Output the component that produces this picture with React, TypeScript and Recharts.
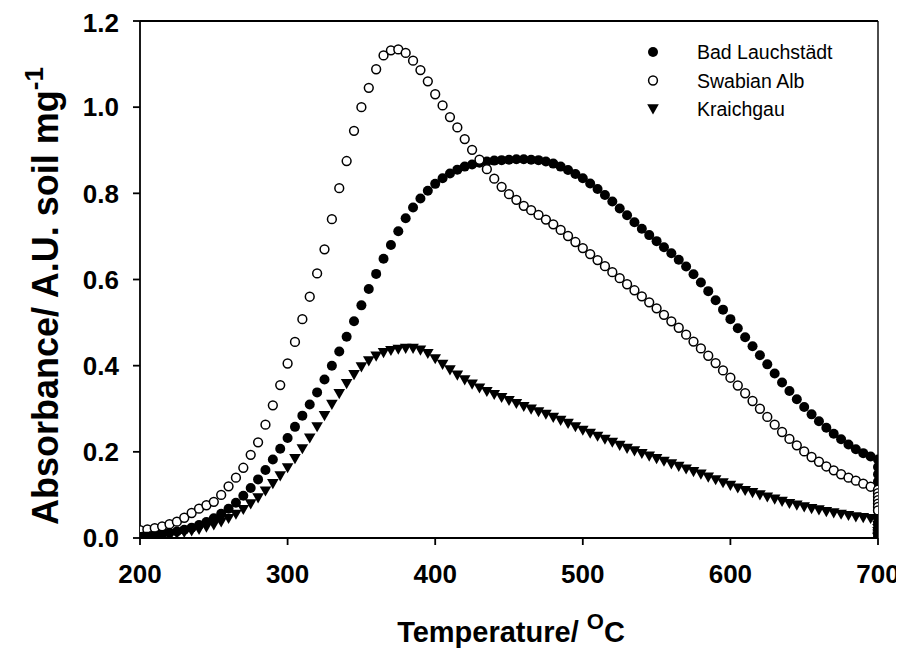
import React from 'react';
import { ScatterChart, Scatter, XAxis, YAxis, ReferenceLine, Label } from 'recharts';

// Temperature (°C) sampling positions
const temperatures = [
  200, 205, 210, 215, 220, 225, 230, 235, 240, 245,
  250, 255, 260, 265, 270, 275, 280, 285, 290, 295,
  300, 305, 310, 315, 320, 325, 330, 335, 340, 345,
  350, 355, 360, 365, 370, 375, 380, 385, 390, 395,
  400, 405, 410, 415, 420, 425, 430, 435, 440, 445,
  450, 455, 460, 465, 470, 475, 480, 485, 490, 495,
  500, 505, 510, 515, 520, 525, 530, 535, 540, 545,
  550, 555, 560, 565, 570, 575, 580, 585, 590, 595,
  600, 605, 610, 615, 620, 625, 630, 635, 640, 645,
  650, 655, 660, 665, 670, 675, 680, 685, 690, 695,
  700,
];

const badLauchstaedt = [
  0.005, 0.006, 0.008, 0.010, 0.012, 0.015, 0.019, 0.024, 0.030, 0.037,
  0.046, 0.056, 0.068, 0.082, 0.098, 0.116, 0.136, 0.158, 0.182, 0.207,
  0.232, 0.258, 0.284, 0.310, 0.338, 0.368, 0.400, 0.433, 0.467, 0.503,
  0.540, 0.578, 0.613, 0.648, 0.680, 0.712, 0.742, 0.767, 0.788, 0.806,
  0.822, 0.835, 0.846, 0.855, 0.862, 0.867, 0.871, 0.874, 0.876, 0.877,
  0.878, 0.879, 0.879, 0.878, 0.877, 0.874, 0.869, 0.862, 0.854, 0.845,
  0.835, 0.823, 0.810, 0.796, 0.781, 0.765, 0.749, 0.733, 0.718, 0.703,
  0.689, 0.675, 0.661, 0.646, 0.630, 0.612, 0.593, 0.573, 0.552, 0.530,
  0.508, 0.487, 0.466, 0.445, 0.424, 0.403, 0.382, 0.361, 0.341, 0.322,
  0.304, 0.287, 0.271, 0.256, 0.242, 0.229, 0.217, 0.206, 0.197, 0.189,
  0.182,
];

const swabianAlb = [
  0.018, 0.020, 0.023, 0.027, 0.032, 0.038, 0.047, 0.058, 0.068, 0.076,
  0.084, 0.100, 0.120, 0.140, 0.163, 0.193, 0.222, 0.263, 0.308, 0.355,
  0.405, 0.455, 0.508, 0.560, 0.614, 0.670, 0.740, 0.812, 0.875, 0.945,
  1.000, 1.045, 1.088, 1.120, 1.132, 1.134, 1.126, 1.108, 1.086, 1.060,
  1.030, 1.004, 0.977, 0.953, 0.926, 0.901, 0.878, 0.856, 0.834, 0.815,
  0.798, 0.785, 0.771, 0.761, 0.750, 0.739, 0.728, 0.715, 0.701, 0.687,
  0.673, 0.659, 0.645, 0.631, 0.617, 0.603, 0.589, 0.575, 0.561, 0.547,
  0.533, 0.518, 0.503, 0.488, 0.472, 0.456, 0.440, 0.423, 0.406, 0.389,
  0.372, 0.354, 0.336, 0.318, 0.300, 0.281, 0.263, 0.246, 0.230, 0.215,
  0.201, 0.188, 0.177, 0.166, 0.157, 0.148, 0.140, 0.133, 0.126, 0.119,
  0.112,
];

const kraichgau = [
  0.003, 0.004, 0.005, 0.006, 0.008, 0.010, 0.013, 0.016, 0.020, 0.025,
  0.030, 0.037, 0.045, 0.055, 0.066, 0.079, 0.093, 0.109, 0.126, 0.144,
  0.163, 0.184, 0.207, 0.232, 0.258, 0.284, 0.310, 0.335, 0.358, 0.379,
  0.397, 0.411, 0.422, 0.430, 0.435, 0.438, 0.440, 0.440, 0.436, 0.428,
  0.416, 0.403, 0.390, 0.378, 0.367, 0.357, 0.348, 0.340, 0.333, 0.326,
  0.319, 0.312, 0.305, 0.299, 0.293, 0.287, 0.280, 0.273, 0.266, 0.258,
  0.250, 0.243, 0.236, 0.229, 0.222, 0.215, 0.208, 0.202, 0.196, 0.190,
  0.184, 0.178, 0.172, 0.166, 0.160, 0.154, 0.148, 0.141, 0.135, 0.128,
  0.122, 0.116, 0.110, 0.105, 0.100, 0.095, 0.090, 0.085, 0.080, 0.076,
  0.072, 0.068, 0.065, 0.061, 0.058, 0.055, 0.052, 0.049, 0.047, 0.045,
  0.043,
];

// Readings taken while held isothermally at the final temperature
const holdTemperature = 700;
const badLauchstaedtHold = [0.165, 0.148, 0.131, 0.114, 0.097, 0.080, 0.064, 0.049, 0.035, 0.022, 0.011, 0.003];
const swabianAlbHold = [0.104, 0.096, 0.088, 0.080, 0.072, 0.064];
const kraichgauHold = [0.036, 0.029, 0.022, 0.015, 0.009, 0.004, 0.001];

const seriesNames = ['Bad Lauchstädt', 'Swabian Alb', 'Kraichgau'];
const xTicks = [200, 300, 400, 500, 600, 700];
const yTicks = [0, 0.2, 0.4, 0.6, 0.8, 1.0, 1.2];

const toPoints = (vals: number[], hold: number[]) => [
  ...temperatures.map((t, i) => ({ t, v: vals[i] })),
  ...hold.map((v) => ({ t: holdTemperature, v })),
];

const blData = toPoints(badLauchstaedt, badLauchstaedtHold);
const saData = toPoints(swabianAlb, swabianAlbHold);
const krData = toPoints(kraichgau, kraichgauHold);

const FONT = '"Liberation Sans", Arial, Helvetica, sans-serif';

const FilledCircle = (p: any) => <circle cx={p.cx} cy={p.cy} r={5} fill="#000" />;
const OpenCircle = (p: any) => (
  <circle cx={p.cx} cy={p.cy} r={4.4} fill="#fff" stroke="#000" strokeWidth={1.5} />
);
const DownTriangle = (p: any) => {
  const { cx, cy } = p;
  const s = 5.8;
  return (
    <polygon
      points={`${cx - s},${cy - s * 0.8} ${cx + s},${cy - s * 0.8} ${cx},${cy + s * 0.95}`}
      fill="#000"
    />
  );
};

const XTitle = (props: any) => {
  const vb = props.viewBox || { x: 132, y: 530, width: 738, height: 118 };
  const cx = vb.x + vb.width / 2 + 2;
  const y = vb.y + 104;
  return (
    <text x={cx} y={y} textAnchor="middle" fontFamily={FONT} fontWeight="bold" fontSize={29} fill="#000">
      Temperature/ <tspan dy={-13} fontSize={22}>O</tspan>
      <tspan dy={13}>C</tspan>
    </text>
  );
};

const YTitle = () => {
  const x = 50;
  const y = 288;
  return (
    <text
      x={x}
      y={y}
      transform={`rotate(-90, ${x}, ${y})`}
      textAnchor="middle"
      fontFamily={FONT}
      fontWeight="bold"
      fontSize={36}
      fill="#000"
    >
      Absorbance/ A.U. soil mg<tspan dy={-15} fontSize={26}>-1</tspan>
    </text>
  );
};

const legendMarkers = [FilledCircle, OpenCircle, DownTriangle];

const LegendOverlay = () => (
  <svg
    width={260}
    height={120}
    style={{ position: 'absolute', left: 620, top: 20, overflow: 'visible' }}
  >
    {seriesNames.map((name, i) => {
      const Marker = legendMarkers[i];
      const cy = 24 + i * 28.5;
      return (
        <g key={name}>
          <Marker cx={25} cy={cy} />
          <text x={69} y={cy} dominantBaseline="central" fontFamily={FONT} fontSize={19.5} fill="#000">
            {name}
          </text>
        </g>
      );
    })}
  </svg>
);

export default function App() {
  return (
    <div style={{ position: 'relative', width: 896, height: 648 }}>
      <ScatterChart width={896} height={648} margin={{ top: 13, right: 26, bottom: 0, left: 0 }}>
        <XAxis
          dataKey="t"
          type="number"
          domain={[200, 700]}
          ticks={xTicks}
          height={118}
          tickSize={7}
          tickMargin={20}
          stroke="#000"
          strokeWidth={1.8}
          tick={{ fill: '#000', fontSize: 26, fontWeight: 'bold', fontFamily: FONT }}
          tickLine={{ stroke: '#000', strokeWidth: 1.8 }}
          axisLine={{ stroke: '#000', strokeWidth: 1.8 }}
          allowDataOverflow
        >
          <Label content={XTitle} />
        </XAxis>
        <YAxis
          dataKey="v"
          type="number"
          domain={[0, 1.2]}
          ticks={yTicks}
          width={132}
          tickSize={7}
          tickMargin={14}
          tickFormatter={(v: number) => v.toFixed(1)}
          tick={{ fill: '#000', fontSize: 26, fontWeight: 'bold', fontFamily: FONT }}
          tickLine={{ stroke: '#000', strokeWidth: 1.8 }}
          axisLine={{ stroke: '#000', strokeWidth: 1.8 }}
          allowDataOverflow
        >
          <Label content={YTitle} />
        </YAxis>
        <ReferenceLine y={1.2} stroke="#000" strokeWidth={1.8} />
        <ReferenceLine x={700} stroke="#000" strokeWidth={1.4} />
        <Scatter name={seriesNames[0]} data={blData} shape={FilledCircle} isAnimationActive={false} />
        <Scatter name={seriesNames[1]} data={saData} shape={OpenCircle} isAnimationActive={false} />
        <Scatter name={seriesNames[2]} data={krData} shape={DownTriangle} isAnimationActive={false} />
      </ScatterChart>
      <LegendOverlay />
    </div>
  );
}
